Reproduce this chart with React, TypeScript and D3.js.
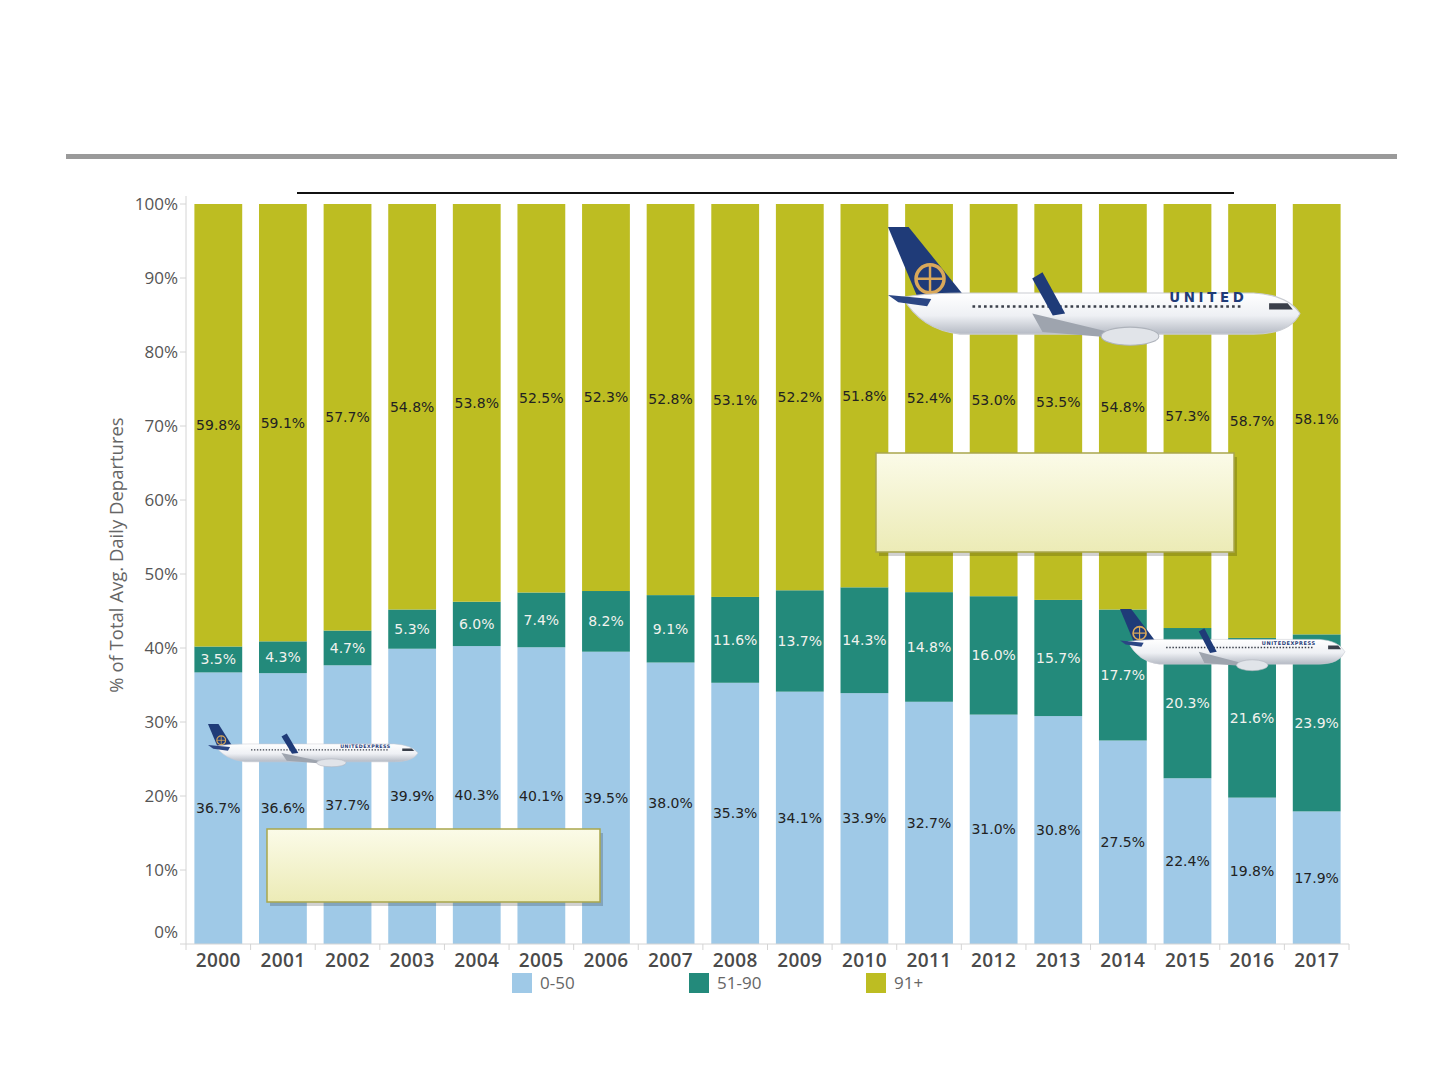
import * as d3 from "d3";

const years = [
  "2000", "2001", "2002", "2003", "2004", "2005", "2006", "2007", "2008",
  "2009", "2010", "2011", "2012", "2013", "2014", "2015", "2016", "2017",
];
const seats0to50 = [36.7, 36.6, 37.7, 39.9, 40.3, 40.1, 39.5, 38.0, 35.3, 34.1, 33.9, 32.7, 31.0, 30.8, 27.5, 22.4, 19.8, 17.9];
const seats51to90 = [3.5, 4.3, 4.7, 5.3, 6.0, 7.4, 8.2, 9.1, 11.6, 13.7, 14.3, 14.8, 16.0, 15.7, 17.7, 20.3, 21.6, 23.9];
const seats91plus = [59.8, 59.1, 57.7, 54.8, 53.8, 52.5, 52.3, 52.8, 53.1, 52.2, 51.8, 52.4, 53.0, 53.5, 54.8, 57.3, 58.7, 58.1];
const seriesNames = ["0-50", "51-90", "91+"];
const yTicks = [0, 0.1, 0.2, 0.3, 0.4, 0.5, 0.6, 0.7, 0.8, 0.9, 1];

const colors = ["#9fc9e7", "#238a7b", "#bdbd22"];
const labelColors = ["#222", "#f2f2ee", "#222"];

const W = 1440;
const H = 1080;
const plot = { left: 186, right: 1349, top: 204, bottom: 944 };

// decorative plane, drawn in a 400-wide box; tailH / fusH in box units
function Plane({ x, y, w, tailH, fusH, big }: { x: number; y: number; w: number; tailH: number; fusH: number; big?: boolean }) {
  const s = w / 400;
  const ft = tailH - 4;
  const fb = ft + fusH;
  const fc = (ft + fb) / 2;
  const gid = big ? "fusB" : `fus${Math.round(x)}`;
  return (
    <g transform={`translate(${x},${y}) scale(${s})`}>
      <defs>
        <linearGradient id={gid} x1="0" y1="0" x2="0" y2="1">
          <stop offset="0" stopColor="#ffffff" />
          <stop offset="0.55" stopColor="#eef0f4" />
          <stop offset="1" stopColor="#b5bac4" />
        </linearGradient>
      </defs>
      {/* tail fin */}
      <path d={`M0,0 L20,0 L${tailH * 1.1},${tailH} L${tailH * 0.42},${tailH} Z`} fill="#1f3b78" />
      <g transform={`translate(${tailH * 0.6},${tailH * 0.74})`}>
        <circle r={tailH * 0.2} fill="none" stroke="#d9a85a" strokeWidth={tailH * 0.05} />
        <path
          d={`M${-tailH * 0.2},0 H${tailH * 0.2} M0,${-tailH * 0.2} V${tailH * 0.2}`}
          stroke="#d9a85a"
          strokeWidth={tailH * 0.035}
        />
      </g>
      {/* fuselage */}
      <path
        d={`M14,${ft + 4} Q40,${ft} 80,${ft} L355,${ft} Q388,${ft + 2} 400,${fc} Q390,${fb} 355,${fb} L70,${fb} Q32,${fb - 4} 14,${ft + 4} Z`}
        fill={`url(#${gid})`}
        stroke="#c9ccd2"
        strokeWidth={1}
      />
      {/* horizontal stabilizer */}
      <path d={`M0,${ft + 2} L42,${ft + 6} L38,${ft + 13} L10,${ft + 9} Z`} fill="#2b4684" />
      {/* windows */}
      <line x1={82} y1={ft + fusH * 0.33} x2={345} y2={ft + fusH * 0.33} stroke="#3a3f4a" strokeWidth={2.6} strokeDasharray="2.6 3" />
      <path d={`M370,${ft + fusH * 0.25} L388,${ft + fusH * 0.25} L393,${ft + fusH * 0.4} L370,${ft + fusH * 0.4} Z`} fill="#3a3f4a" />
      {/* wing */}
      <path d={`M140,${fc} L240,${fb + 4} L262,${fb + 7} L150,${fb - 2} Z`} fill="#9ea4ae" />
      <path d={`M140,${ft - 14} L150,${ft - 20} L172,${ft + fusH * 0.5} L160,${ft + fusH * 0.55} Z`} fill="#1f3b78" />
      {/* engine */}
      <ellipse cx={235} cy={fb + 2} rx={28} ry={fusH * 0.22} fill="#e1e4e9" stroke="#aeb3bb" />
      {big ? (
        <text
          x={311}
          y={ft + fusH * 0.22}
          textAnchor="middle"
          fontFamily="'DejaVu Sans', sans-serif"
          fontWeight="700"
          fontSize={13}
          letterSpacing={3.5}
          fill="#1f3b78"
        >
          UNITED
        </text>
      ) : (
        <text
          x={300}
          y={ft + fusH * 0.24}
          textAnchor="middle"
          fontFamily="'DejaVu Sans', sans-serif"
          fontWeight="700"
          fontSize={9}
          letterSpacing={1}
          fill="#1f3b78"
        >
          UNITEDEXPRESS
        </text>
      )}
    </g>
  );
}

function Note({ x, y, w, h, id }: { x: number; y: number; w: number; h: number; id: string }) {
  return (
    <g>
      <defs>
        <linearGradient id={id} x1="0" y1="0" x2="0" y2="1">
          <stop offset="0" stopColor="#fbfbe8" />
          <stop offset="1" stopColor="#ecebb6" />
        </linearGradient>
      </defs>
      <rect x={x + 3} y={y + 4} width={w} height={h} fill="#000" opacity={0.18} />
      <rect x={x} y={y} width={w} height={h} fill={`url(#${id})`} stroke="#a9a64c" strokeWidth={1.5} />
    </g>
  );
}

export default function App() {
  const x = d3
    .scaleBand<string>()
    .domain(years)
    .range([plot.left, plot.right])
    .paddingInner(0.26)
    .paddingOuter(0.13);

  const y = d3.scaleLinear().domain([0, 1]).range([plot.bottom, plot.top]);

  const table = years.map((yr, i) => ({
    year: yr,
    "0-50": seats0to50[i],
    "51-90": seats51to90[i],
    "91+": seats91plus[i],
  }));
  // 100% stacked: every bar fills to the top
  const stacked = d3.stack<any>().keys(seriesNames).offset(d3.stackOffsetExpand)(table);

  const tickFont = "'Open Sans', sans-serif";
  const step = x.step();

  return (
    <svg
      width={W}
      height={H}
      style={{ position: "absolute", left: 0, top: 0, background: "#fff" }}
    >
      {/* header rule */}
      <rect x={66} y={154} width={1331} height={5} fill="#9a9a9a" />
      <line x1={297} x2={1234} y1={193} y2={193} stroke="#111" strokeWidth={2} />

      {/* y axis */}
      <line x1={plot.left} x2={plot.left} y1={196} y2={plot.bottom} stroke="#d4d4d4" />
      {yTicks.map((t) => (
        <g key={t}>
          <line x1={plot.left - 6} x2={plot.left} y1={y(t)} y2={y(t)} stroke="#d4d4d4" />
          <text
            x={plot.left - 8}
            y={t === 0 ? y(t) - 12 : y(t)}
            dy="0.35em"
            textAnchor="end"
            fontFamily={tickFont}
            fontSize={17}
            fill="#555"
          >
            {d3.format(".0%")(t)}
          </text>
        </g>
      ))}
      <text
        transform="translate(117,555) rotate(-90)"
        textAnchor="middle"
        dy="0.35em"
        fontFamily={tickFont}
        fontSize={18.5}
        fill="#666"
      >
        % of Total Avg. Daily Departures
      </text>

      {/* bars */}
      {stacked.map((layer, si) => (
        <g key={layer.key}>
          {layer.map((d: any) => (
            <rect
              key={d.data.year}
              x={x(d.data.year)}
              y={y(d[1])}
              width={x.bandwidth()}
              height={y(d[0]) - y(d[1])}
              fill={colors[si]}
            />
          ))}
        </g>
      ))}

      {/* labels */}
      {stacked.map((layer, si) => (
        <g key={layer.key + "-lab"}>
          {layer.map((d: any) => (
            <text
              key={d.data.year}
              x={(x(d.data.year) ?? 0) + x.bandwidth() / 2}
              y={y((d[0] + d[1]) / 2)}
              dy="0.35em"
              textAnchor="middle"
              fontFamily="'DejaVu Sans', sans-serif"
              fontSize={14}
              fill={labelColors[si]}
            >
              {d.data[layer.key].toFixed(1)}%
            </text>
          ))}
        </g>
      ))}

      {/* x axis */}
      <line x1={plot.left} x2={plot.right} y1={plot.bottom} y2={plot.bottom} stroke="#d4d4d4" />
      {years.map((yr) => {
        const b = (x(yr) ?? 0) - (step - x.bandwidth()) / 2;
        return (
          <g key={yr}>
            <line x1={b} x2={b} y1={plot.bottom} y2={plot.bottom + 6} stroke="#d4d4d4" />
            <text
              x={(x(yr) ?? 0) + x.bandwidth() / 2}
              y={plot.bottom + 23}
              textAnchor="middle"
              fontFamily={tickFont}
              fontWeight={600}
              fontSize={19}
              letterSpacing={0.4}
              fill="#4a4a4a"
            >
              {yr}
            </text>
          </g>
        );
      })}
      <line x1={plot.right} x2={plot.right} y1={plot.bottom} y2={plot.bottom + 6} stroke="#d4d4d4" />

      {/* legend */}
      {seriesNames.map((name, i) => {
        const lx = [512, 689, 866][i];
        return (
          <g key={name}>
            <rect x={lx} y={973} width={20} height={20} fill={colors[i]} />
            <text x={lx + 28} y={983} dy="0.35em" fontFamily={tickFont} fontSize={17} fill="#666">
              {name}
            </text>
          </g>
        );
      })}

      {/* decorations */}
      <Plane x={888} y={227} w={412} tailH={68} fusH={40} big />
      <Plane x={208} y={724} w={210} tailH={42} fusH={34} />
      <Plane x={1120} y={609} w={225} tailH={58} fusH={44} />
      <Note x={876} y={453} w={358} h={99} id="noteA" />
      <Note x={267} y={829} w={333} h={73} id="noteB" />
    </svg>
  );
}
